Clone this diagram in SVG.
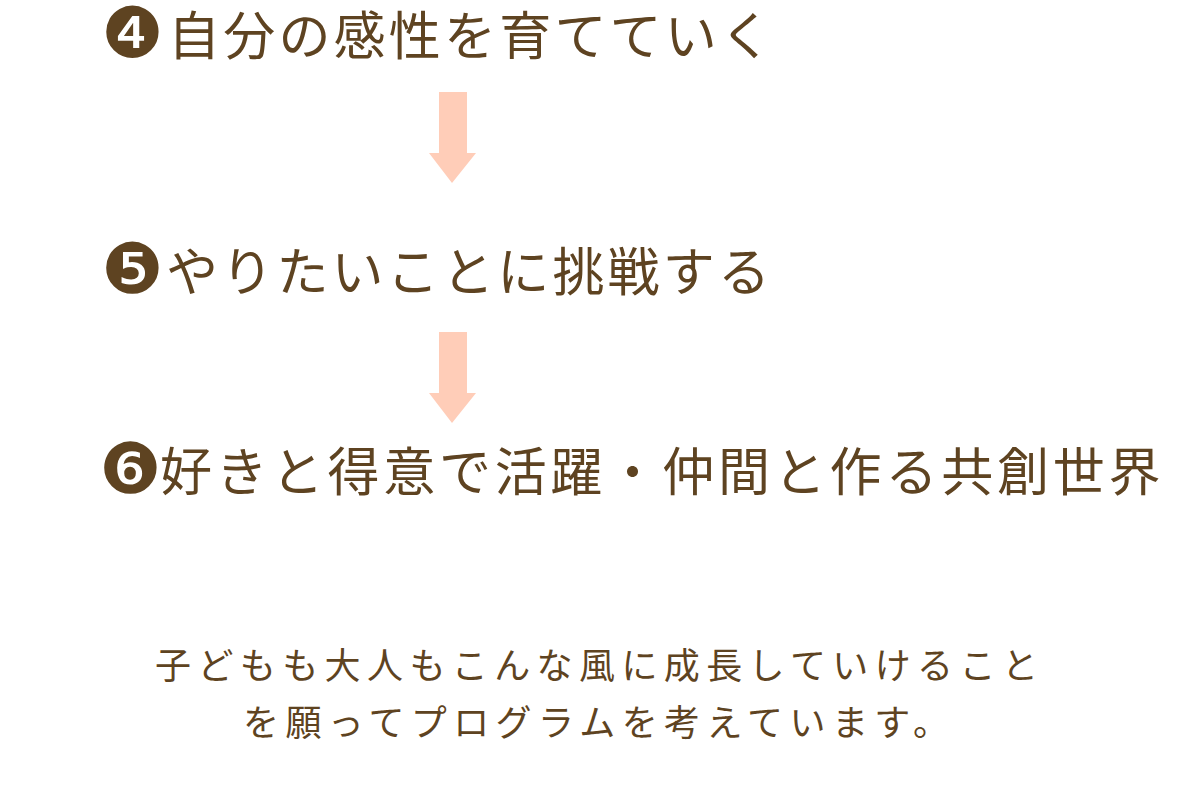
<svg xmlns="http://www.w3.org/2000/svg" width="1200" height="800" viewBox="0 0 1200 800">
<style>
.h{font-family:"Noto Sans CJK JP","Noto Sans CJK SC",sans-serif;font-size:52px;fill:#5e4321;letter-spacing:3.2px}
.n{font-family:"DejaVu Sans",sans-serif;font-size:70px;fill:#5e4321}
.b{font-family:"Noto Sans CJK JP","Noto Sans CJK SC",sans-serif;font-size:36px;fill:#5e4321;letter-spacing:6.4px}
.arr{fill:#ffcdb8}
</style>
<rect width="1200" height="800" fill="#ffffff"/>
<g id="step4">
<text class="n" x="101" y="57">❹</text>
<text class="h" x="168" y="55">自分の感性を育てていく</text>
</g>
<g id="step5">
<text class="n" x="101" y="293">❺</text>
<text class="h" x="166" y="291">やりたいことに挑戦する</text>
</g>
<g id="step6">
<text class="n" x="99" y="493">❻</text>
<text class="h" x="160" y="491" style="letter-spacing:3.8px">好きと得意で活躍・仲間と作る共創世界</text>
</g>
<g id="connectors">
<polygon class="arr" points="439,92 467,92 467,153 476,153 452,183 429,153 439,153"/>
<polygon class="arr" points="439,332 467,332 467,393 476,393 452,423 429,393 439,393"/>
</g>
<g id="message">
<text class="b" x="155" y="679">子どもも大人もこんな風に成長していけること</text>
<text class="b" x="243" y="736">を願ってプログラムを考えています。</text>
</g>
</svg>
